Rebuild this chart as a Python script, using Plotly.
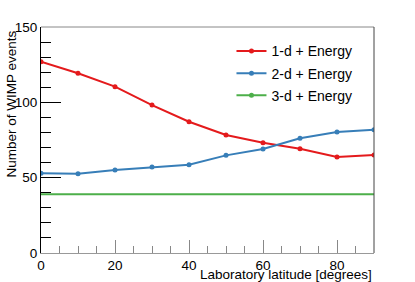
import plotly.graph_objects as go

latitude = [0, 10, 20, 30, 40, 50, 60, 70, 80, 90]
one_d = [127.0, 119.3, 110.4, 98.2, 87.1, 78.3, 73.2, 69.2, 63.7, 65.0]
two_d = [52.9, 52.6, 55.1, 57.1, 58.6, 64.8, 69.0, 76.1, 80.3, 81.8]
three_d = [39.0] * 10
names = ["1-d + Energy", "2-d + Energy", "3-d + Energy"]
colors = ["#e41a1c", "#377eb8", "#4daf4a"]

FONT = "Liberation Sans, Arial, Helvetica, sans-serif"

fig = go.Figure()
fig.add_trace(go.Scatter(x=latitude, y=one_d, mode="lines+markers", name=names[0],
                         line=dict(color=colors[0], width=2), marker=dict(size=5, color=colors[0]),
                         legendgroup="a"))
fig.add_trace(go.Scatter(x=latitude, y=two_d, mode="lines+markers", name=names[1],
                         line=dict(color=colors[1], width=2), marker=dict(size=5, color=colors[1]),
                         legendgroup="b"))
fig.add_trace(go.Scatter(x=latitude, y=three_d, mode="lines", name=names[2],
                         line=dict(color=colors[2], width=2), showlegend=False))
fig.add_trace(go.Scatter(x=[None], y=[None], mode="lines+markers", name=names[2],
                         line=dict(color=colors[2], width=2), marker=dict(size=5, color=colors[2]),
                         legendgroup="c"))

fig.update_layout(
    width=415, height=282,
    margin=dict(l=41, r=41, t=27, b=29),
    paper_bgcolor="white", plot_bgcolor="white",
    font=dict(family=FONT, size=13.5, color="black"),
    showlegend=True,
    legend=dict(x=0.572, y=0.963, xanchor="left", yanchor="top",
                font=dict(family=FONT, size=14), bgcolor="rgba(0,0,0,0)",
                traceorder="grouped", tracegroupgap=1, itemwidth=30),
    xaxis=dict(range=[0, 90], tickvals=[0, 20, 40, 60, 80], ticks="inside", ticklen=13,
               tickcolor="#888", tickwidth=1, showline=True, linecolor="#999", linewidth=1,
               showgrid=False, zeroline=False, automargin=False,
               minor=dict(dtick=5, ticks="inside", ticklen=7, tickcolor="#888", showgrid=False)),
    yaxis=dict(range=[0, 150], tickvals=[0, 50, 100, 150], ticks="inside", ticklen=20,
               tickcolor="black", tickwidth=1, showline=True, linecolor="black", linewidth=1,
               showgrid=False, zeroline=False, automargin=False,
               minor=dict(dtick=10, ticks="inside", ticklen=10, tickcolor="black", showgrid=False)),
    shapes=[
        dict(type="line", xref="paper", yref="paper", x0=0, x1=1, y0=1, y1=1,
             line=dict(color="#888", width=1)),
        dict(type="line", xref="paper", yref="paper", x0=1, x1=1, y0=0, y1=1,
             line=dict(color="#444", width=1)),
    ],
    annotations=[
        dict(text="Laboratory latitude [degrees]", xref="paper", yref="paper", x=1, y=0,
             xanchor="right", yanchor="top", yshift=-12, showarrow=False,
             font=dict(family=FONT, size=13.5)),
        dict(text="Number of WIMP events", xref="paper", yref="paper", x=0, y=1,
             xanchor="center", yanchor="top", xshift=-30, yshift=-2, textangle=-90,
             showarrow=False, font=dict(family=FONT, size=13.5)),
    ],
)

fig.write_html("out.html", config={"displayModeBar": False},
               post_script="document.body.style.margin='0';")
